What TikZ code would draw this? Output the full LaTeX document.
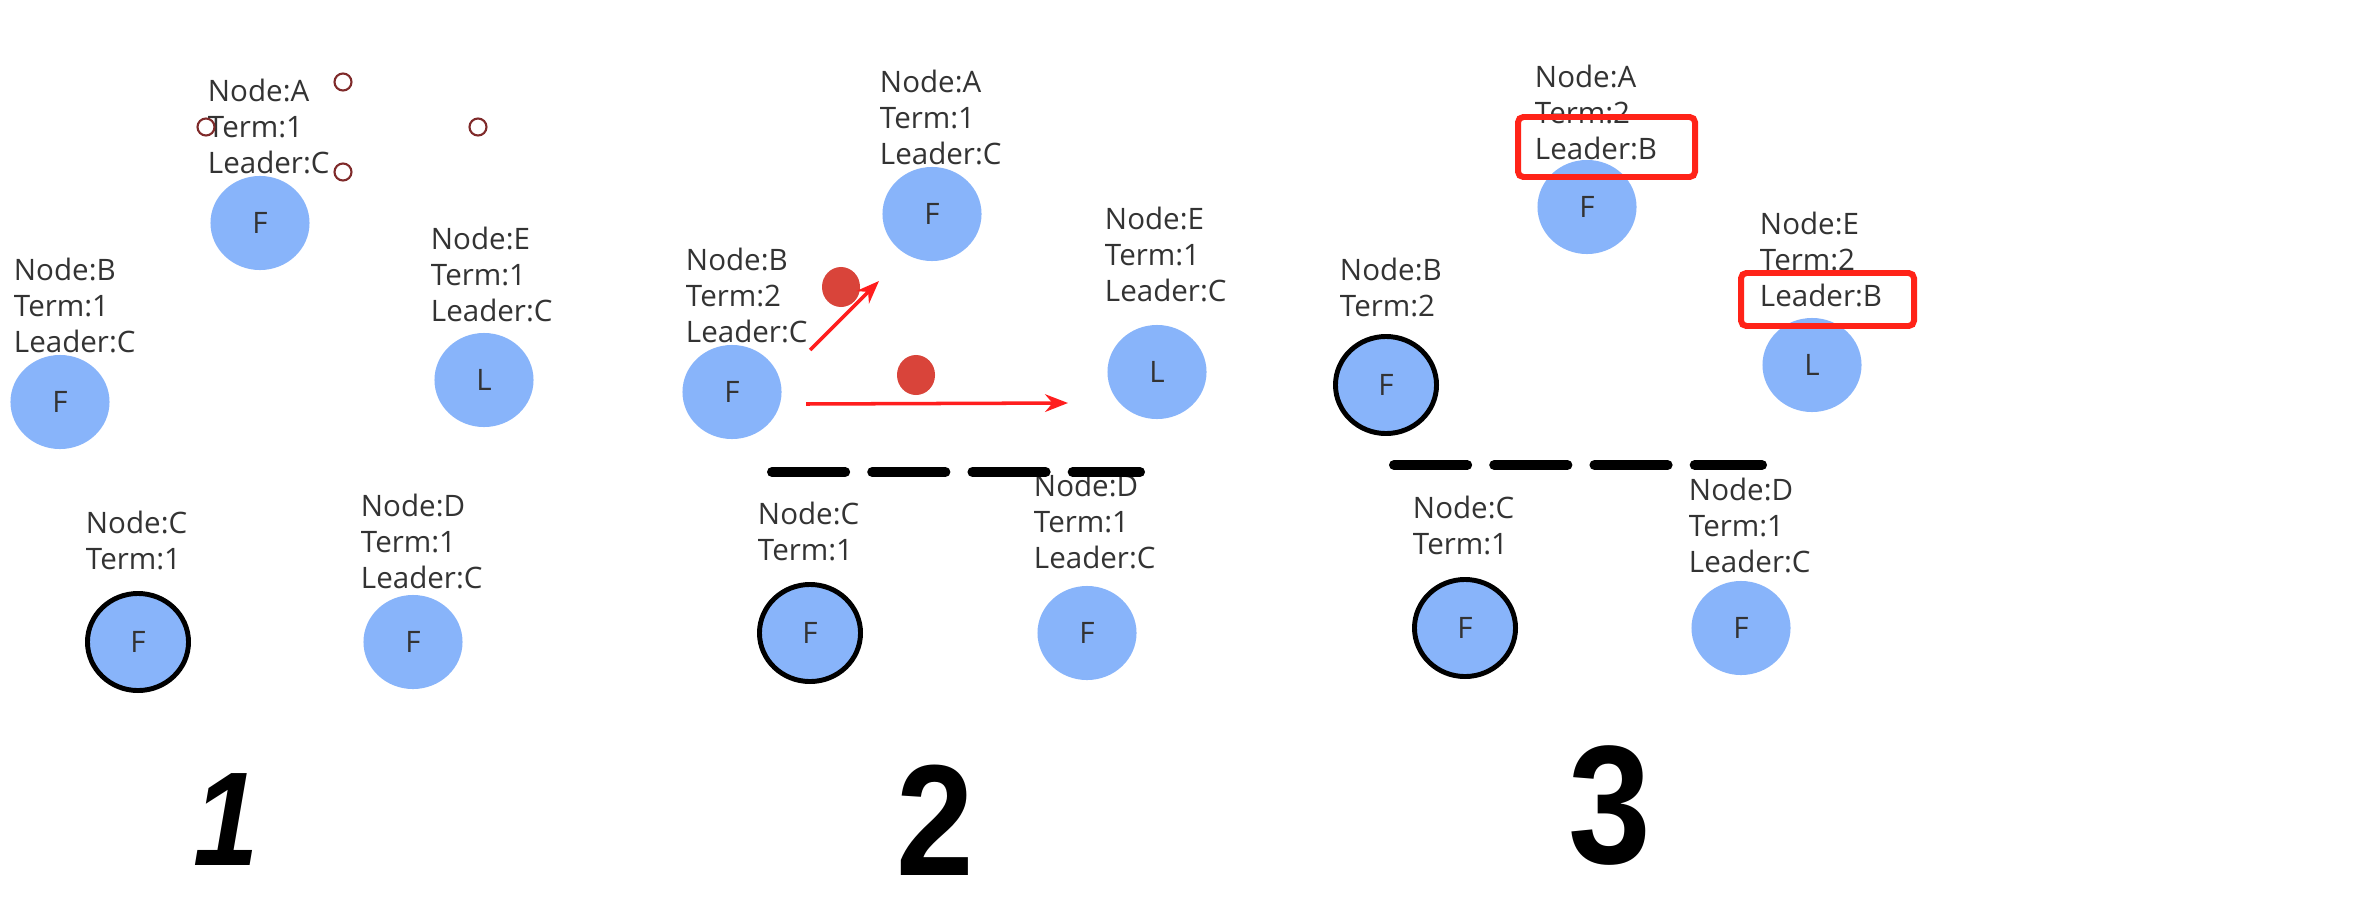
\documentclass[tikz,border=0pt]{standalone}
\usepackage{fontspec}
\setmainfont{Open Sans}
\newfontfamily\numfont[FakeStretch=0.88]{Liberation Sans}
\usetikzlibrary{positioning,shapes.geometric,arrows.meta}

\definecolor{srvblue}{HTML}{88B4FA}
\definecolor{inktext}{HTML}{333333}
\definecolor{votered}{HTML}{D9443A}
\definecolor{msgred}{HTML}{FF1E1E}
\definecolor{boxred}{HTML}{FF2318}
\definecolor{handlered}{HTML}{7F2A2A}
\newcommand{\infofont}{\fontsize{8.4pt}{10.2pt}\selectfont}

\begin{document}
\begin{tikzpicture}[x=0.01cm, y=-0.01cm,
  every node/.style={inner sep=0pt, outer sep=0pt, text=inktext},
  srv/.style={ellipse, fill=srvblue, minimum width=0.99cm, minimum height=0.94cm, font=\infofont},
  cand/.style={srv, draw=black, line width=1.4pt, minimum width=1.01cm, minimum height=0.97cm},
  info/.style={align=left, font=\infofont},
  vote/.style={ellipse, fill=votered, minimum width=0.38cm, minimum height=0.40cm},
  msg/.style={-{Stealth[length=6.5pt, width=5pt]}, draw=msgred, line width=1pt},
  wall/.style={line width=2.85pt, line cap=round, dash pattern=on 20.8pt off 7.7pt},
  hilite/.style={draw=boxred, line width=1.7pt, rounded corners=1.5pt},
  handle/.style={draw=handlered, line width=0.6pt},
  stage/.style={text=black, font=\numfont\bfseries\fontsize{#1}{#1}\selectfont}]

  \path[use as bounding box, fill=white] (0,0) rectangle (2364,909);

  % 1
  \node[srv] (A1) at (260,223) {F};
  \node[srv] (B1) at (60,402) {F};
  \node[srv] (E1) at (484,380) {L};
  \node[cand] (C1) at (138,642) {F};
  \node[srv] (D1) at (413,642) {F};

  \node[info, above right=0.02cm and -0.52cm of A1.north] (A1t) {Node:A\\Term:1\\Leader:C};
  \node[info, above right=0.02cm and -0.46cm of B1.north] (B1t) {Node:B\\Term:1\\Leader:C};
  \node[info, above right=0.11cm and -0.53cm of E1.north] (E1t) {Node:E\\Term:1\\Leader:C};
  \node[info, above right=0.235cm and -0.52cm of C1.north] (C1t) {Node:C\\Term:1};
  \node[info, above right=0.06cm and -0.52cm of D1.north] (D1t) {Node:D\\Term:1\\Leader:C};

  \foreach \p in {(343,82),(206,127),(478,127),(343,172)}
    \draw[handle] \p circle[radius=0.085cm];

  \node[stage=38pt] (n1) at (226,820) {\itshape 1};

  % 2
  \node[srv] (A2) at (932,214) {F};
  \node[srv] (B2) at (732,392) {F};
  \node[srv] (E2) at (1157,372) {L};
  \node[cand] (C2) at (810,633) {F};
  \node[srv] (D2) at (1087,633) {F};

  \node[info, above right=0.02cm and -0.52cm of A2.north] (A2t) {Node:A\\Term:1\\Leader:C};
  \node[info, above right=0.02cm and -0.46cm of B2.north] (B2t) {Node:B\\Term:2\\Leader:C};
  \node[info, above right=0.23cm and -0.52cm of E2.north] (E2t) {Node:E\\Term:1\\Leader:C};
  \node[info, above right=0.235cm and -0.52cm of C2.north] (C2t) {Node:C\\Term:1};
  \node[info, above right=0.17cm and -0.53cm of D2.north] (D2t) {Node:D\\Term:1\\Leader:C};

  \node[vote] (v1) at (841,287) {};
  \node[vote] (v2) at (916,375) {};
  \coordinate (p1) at (810,350);
  \coordinate (q1) at (879,281);
  \coordinate (p2) at (806,404);
  \coordinate (q2) at (1068,403);
  \draw[msg] (p1) -- (q1);
  \draw[msg] (p2) -- (q2);

  \draw[wall] (772,472) -- (1140,472);

  \node[stage=45pt] (n2) at (935,820) {2};

  % 3
  \node[srv] (A3) at (1587,207) {F};
  \node[cand] (B3) at (1386,385) {F};
  \node[srv] (E3) at (1812,365) {L};
  \node[cand] (C3) at (1465,628) {F};
  \node[srv] (D3) at (1741,628) {F};

  \node[info, above right=0cm and -0.52cm of A3.north] (A3t) {Node:A\\Term:2\\Leader:B};
  \node[info, above right=0.195cm and -0.46cm of B3.north] (B3t) {Node:B\\Term:2};
  \node[info, above right=0.11cm and -0.52cm of E3.north] (E3t) {Node:E\\Term:2\\Leader:B};
  \node[info, above right=0.245cm and -0.52cm of C3.north] (C3t) {Node:C\\Term:1};
  \node[info, above right=0.08cm and -0.52cm of D3.north] (D3t) {Node:D\\Term:1\\Leader:C};

  \draw[hilite] (1518,117) rectangle (1695,177);
  \draw[hilite] (1741,273) rectangle (1914,326);

  \draw[wall] (1394,465) -- (1762,465);

  \node[stage=48pt] (n3) at (1610,806) {3};
\end{tikzpicture}
\end{document}
